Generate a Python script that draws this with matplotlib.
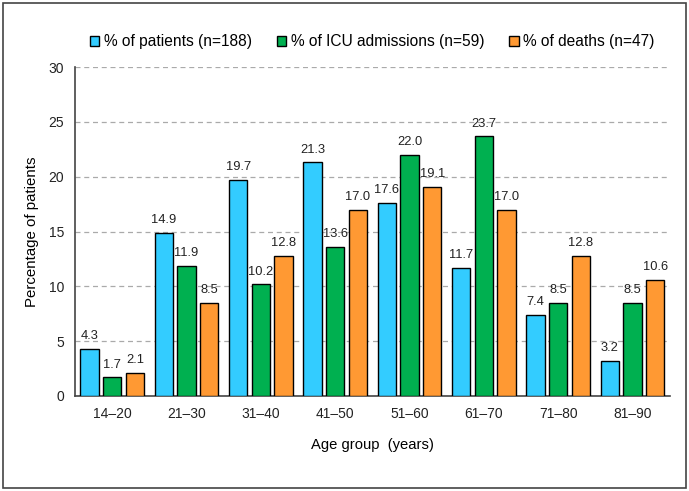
import matplotlib
matplotlib.use("Agg")
import matplotlib.pyplot as plt
import numpy as np
from matplotlib.patches import Rectangle

plt.rcParams['font.family'] = ['Liberation Sans', 'DejaVu Sans']

# data
age_groups = ['14\u201320', '21\u201330', '31\u201340', '41\u201350',
              '51\u201360', '61\u201370', '71\u201380', '81\u201390']
patients = [4.3, 14.9, 19.7, 21.3, 17.6, 11.7, 7.4, 3.2]
icu = [1.7, 11.9, 10.2, 13.6, 22.0, 23.7, 8.5, 8.5]
deaths = [2.1, 8.5, 12.8, 17.0, 19.1, 17.0, 12.8, 10.6]
names = ['% of patients (n=188)', '% of ICU admissions (n=59)', '% of deaths (n=47)']
colors = ['#33CCFF', '#00B050', '#FF9933']

fig = plt.figure(figsize=(6.89, 4.91), dpi=100)
ax = fig.add_axes([0.109, 0.1935, 0.863, 0.67])

x = np.arange(len(age_groups))
w = 0.245
step = 0.305
series = [patients, icu, deaths]
for k, vals in enumerate(series):
    pos = x + (k - 1) * step
    ax.bar(pos, vals, w, color=colors[k], edgecolor='black',
           linewidth=1.0, label=names[k], zorder=3)
    for p, v in zip(pos, vals):
        ax.text(p, v + 0.6, f'{v:.1f}', ha='center', va='bottom',
                fontsize=9.3, color='#222222', zorder=4)

ax.set_xlim(-0.5, len(age_groups) - 0.5)
ax.set_ylim(0, 30)
ax.set_yticks(range(0, 31, 5))
ax.set_xticks(x)
ax.set_xticklabels(age_groups)
ax.tick_params(axis='both', length=0, labelsize=10, colors='#222222', pad=8)
ax.yaxis.grid(True, linestyle=(0, (4, 3)), color='#AAAAAA', linewidth=0.9, zorder=0)
for s in ['top', 'right']:
    ax.spines[s].set_visible(False)
for s in ['left', 'bottom']:
    ax.spines[s].set_color('#444444')
    ax.spines[s].set_linewidth(1.2)

ax.set_xlabel('Age group  (years)', fontsize=10.6, labelpad=12)
ax.set_ylabel('Percentage of patients', fontsize=10.8, labelpad=7)

ax.legend(loc='lower center', bbox_to_anchor=(0.5, 1.035), ncol=3, frameon=False,
          fontsize=11.2, handlelength=0.6, handleheight=0.6, handletextpad=0.3,
          columnspacing=1.6, borderaxespad=0)

fig.patches.append(Rectangle((0.004, 0.006), 0.992, 0.988, transform=fig.transFigure,
                             fill=False, edgecolor='#444444', linewidth=1.2))

fig.savefig('out.png', dpi=100)
